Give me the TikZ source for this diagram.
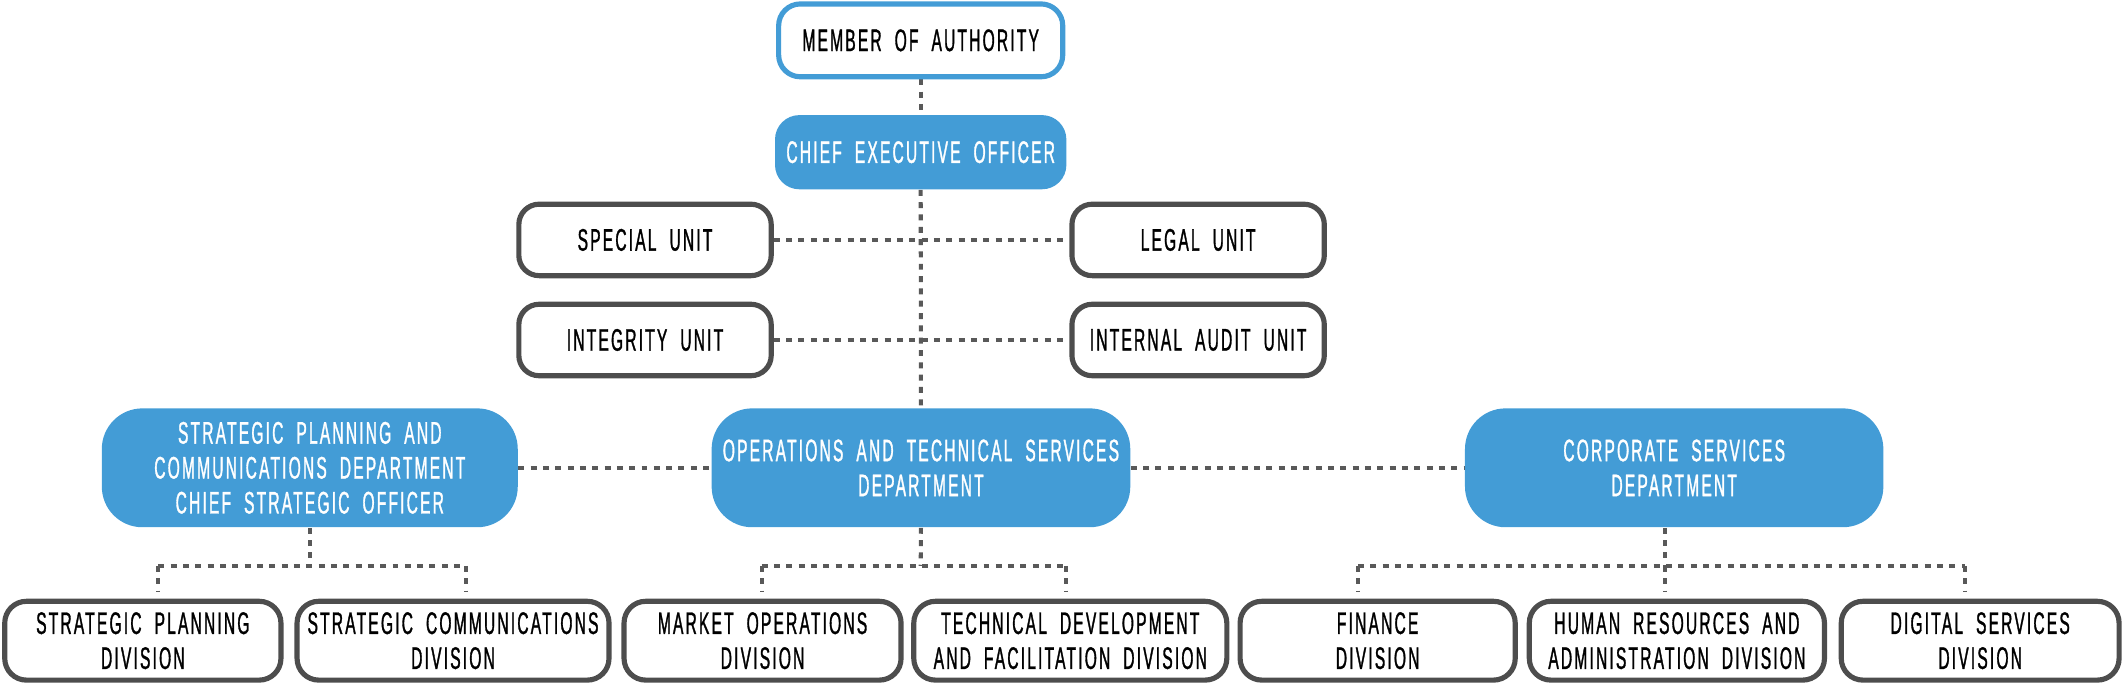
\documentclass[tikz,border=0pt]{standalone}
\usepackage{fontspec}
\setmainfont[FakeStretch=0.5,LetterSpace=7,WordSpace=2,FakeBold=1]{Liberation Sans}
\usetikzlibrary{backgrounds}
\definecolor{cblue}{HTML}{439CD6}
\definecolor{cborder}{HTML}{4D4D4D}
\definecolor{cline}{HTML}{595959}
\tikzset{
  txt/.style={font=\fontsize{11.5}{12.9}\selectfont, align=center, inner sep=0pt},
  topbox/.style={txt, draw=cblue, line width=1.9pt, fill=white, rounded corners=8pt,
    minimum width=104.9pt, minimum height=26.9pt},
  ceobox/.style={txt, fill=cblue, text=white, rounded corners=9pt,
    minimum width=107.6pt, minimum height=27.4pt},
  unitbox/.style={txt, draw=cborder, line width=1.9pt, fill=white, rounded corners=7.5pt,
    minimum width=93.2pt, minimum height=26.4pt},
  deptbox/.style={txt, fill=cblue, text=white, rounded corners=15pt,
    minimum height=43.9pt},
  divbox/.style={txt, draw=cborder, line width=1.9pt, fill=white, rounded corners=8pt,
    minimum height=29.1pt},
  conn/.style={draw=cline, line width=1.5pt, dash pattern=on 2.2pt off 2.35pt},
  drop/.style={conn, shorten >=2.5pt}
}
\begin{document}
\begin{tikzpicture}[x=0.5pt,y=-0.5pt]
\useasboundingbox (0,0) rectangle (1568,505.2);
% top
\node[topbox] (moa) at (680,29.8) {MEMBER OF AUTHORITY};
\node[ceobox] (ceo) at (680,112.4) {CHIEF EXECUTIVE OFFICER};
% units
\node[unitbox] (spu) at (476.4,177.2) {SPECIAL UNIT};
\node[unitbox] (leg) at (884.9,177.2) {LEGAL UNIT};
\node[unitbox] (itg) at (476.4,251.1) {INTEGRITY UNIT};
\node[unitbox] (aud) at (884.9,251.1) {INTERNAL AUDIT UNIT};
% departments
\node[deptbox, minimum width=153.6pt] (spc) at (228.8,345.5) {STRATEGIC PLANNING AND\\COMMUNICATIONS DEPARTMENT\\CHIEF STRATEGIC OFFICER};
\node[deptbox, minimum width=154.6pt] (ops) at (680.2,345.5) {OPERATIONS AND TECHNICAL SERVICES\\DEPARTMENT};
\node[deptbox, minimum width=154.5pt] (cor) at (1236.5,345.5) {CORPORATE SERVICES\\DEPARTMENT};
% divisions
\node[divbox, minimum width=102pt] (spd) at (105.5,473.2) {STRATEGIC PLANNING\\DIVISION};
\node[divbox, minimum width=115.2pt] (scd) at (334.6,473.2) {STRATEGIC COMMUNICATIONS\\DIVISION};
\node[divbox, minimum width=102.3pt] (mod) at (563.2,473.2) {MARKET OPERATIONS\\DIVISION};
\node[divbox, minimum width=115.6pt] (tdd) at (790.5,473.2) {TECHNICAL DEVELOPMENT\\AND FACILITATION DIVISION};
\node[divbox, minimum width=101.6pt] (fin) at (1017.5,473.2) {FINANCE\\DIVISION};
\node[divbox, minimum width=109pt] (hrd) at (1238.5,473.2) {HUMAN RESOURCES AND\\ADMINISTRATION DIVISION};
\node[divbox, minimum width=102.6pt] (dsd) at (1462.5,473.2) {DIGITAL SERVICES\\DIVISION};
% junction coordinates
\coordinate (ja) at (228.8,418);
\coordinate (ja1) at (117,418);
\coordinate (ja2) at (344,418);
\coordinate (jb) at (680,418);
\coordinate (jb1) at (562.6,418);
\coordinate (jb2) at (787,418);
\coordinate (jc) at (1230,418);
\coordinate (jc1) at (1003,418);
\coordinate (jc2) at (1451,418);
\begin{scope}[on background layer]
\draw[conn] (moa.south) -- (ceo.north);
\draw[conn] (ceo.south) -- (ops.north);
\draw[conn] (spu.east) -- (leg.west);
\draw[conn] (itg.east) -- (aud.west);
\draw[conn] (spc.east) -- (ops.west);
\draw[conn] (ops.east) -- (cor.west);
\draw[conn] (spc.south) -- (ja);
\draw[conn] (ja1) -- (ja2);
\draw[drop] (ja1) -- (ja1 |- spd.north);
\draw[drop] (ja2) -- (ja2 |- scd.north);
\draw[conn] (ops.south) -- (jb);
\draw[conn] (jb1) -- (jb2);
\draw[drop] (jb1) -- (jb1 |- mod.north);
\draw[drop] (jb2) -- (jb2 |- tdd.north);
\draw[conn] (cor.south -| jc) -- (jc);
\draw[conn] (jc1) -- (jc2);
\draw[drop] (jc1) -- (jc1 |- fin.north);
\draw[drop] (jc) -- (jc |- hrd.north);
\draw[drop] (jc2) -- (jc2 |- dsd.north);
\end{scope}
\end{tikzpicture}
\end{document}
